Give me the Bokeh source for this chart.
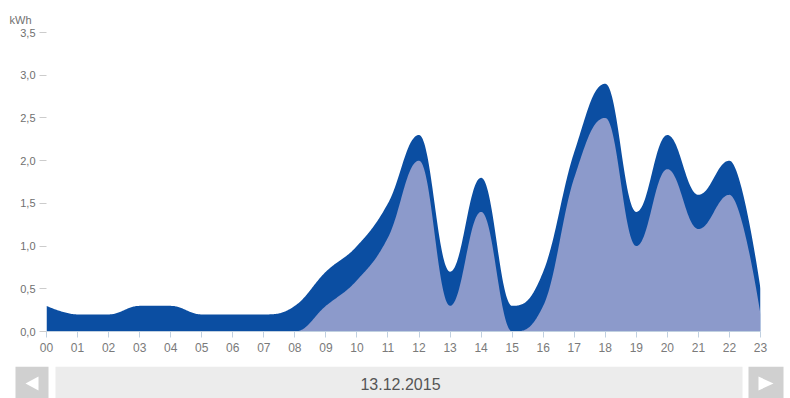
from bokeh.plotting import figure
from bokeh.layouts import column
from bokeh.models import FixedTicker, CustomJSTickFormatter, Title
from bokeh.embed import file_html
from bokeh.resources import INLINE

# Hourly energy readings (kWh) for 13.12.2015
hours = list(range(24))
hour_labels = ["%02d" % h for h in hours]
total_kwh = [0.3, 0.2, 0.2, 0.3, 0.3, 0.2, 0.2, 0.2, 0.3, 0.7, 1.0, 1.5,
             2.3, 0.7, 1.8, 0.3, 0.7, 2.1, 2.9, 1.4, 2.3, 1.6, 2.0, 0.5]
part_kwh = [0.0, 0.0, 0.0, 0.0, 0.0, 0.0, 0.0, 0.0, 0.0, 0.3, 0.6, 1.1,
            2.0, 0.3, 1.4, 0.0, 0.3, 1.8, 2.5, 1.0, 1.9, 1.2, 1.6, 0.2]
y_ticks = [0.0, 0.5, 1.0, 1.5, 2.0, 2.5, 3.0, 3.5]
date_label = "13.12.2015"

DARK = "#0b4ea2"
LIGHT = "#8c9acb"
FONT = "Liberation Sans"


def spline_path(xs, ys, smoothing=1.5, steps=40):
    """Smooth curve through the points (cubic Bezier segments, spline style)."""
    n = len(xs)
    left = [(xs[i], ys[i]) for i in range(n)]
    right = [(xs[i], ys[i]) for i in range(n)]
    denom = smoothing + 1
    for i in range(1, n - 1):
        px, py = xs[i], ys[i]
        lx, ly = xs[i - 1], ys[i - 1]
        nx, ny = xs[i + 1], ys[i + 1]
        lcx = (smoothing * px + lx) / denom
        lcy = (smoothing * py + ly) / denom
        rcx = (smoothing * px + nx) / denom
        rcy = (smoothing * py + ny) / denom
        if rcx != lcx:
            corr = ((rcy - lcy) * (rcx - px)) / (rcx - lcx) + py - rcy
            lcy += corr
            rcy += corr
        if lcy > ly and lcy > py:
            lcy = max(ly, py)
            rcy = 2 * py - lcy
        elif lcy < ly and lcy < py:
            lcy = min(ly, py)
            rcy = 2 * py - lcy
        if rcy > ny and rcy > py:
            rcy = max(ny, py)
            lcy = 2 * py - rcy
        elif rcy < ny and rcy < py:
            rcy = min(ny, py)
            lcy = 2 * py - rcy
        left[i] = (lcx, lcy)
        right[i] = (rcx, rcy)
    out_x, out_y = [xs[0]], [ys[0]]
    for i in range(n - 1):
        p0 = (xs[i], ys[i])
        p1 = right[i]
        p2 = left[i + 1]
        p3 = (xs[i + 1], ys[i + 1])
        for k in range(1, steps + 1):
            t = k / steps
            a = (1 - t) ** 3
            b = 3 * (1 - t) ** 2 * t
            c = 3 * (1 - t) * t ** 2
            d = t ** 3
            out_x.append(a * p0[0] + b * p1[0] + c * p2[0] + d * p3[0])
            out_y.append(a * p0[1] + b * p1[1] + c * p2[1] + d * p3[1])
    return out_x, out_y


p = figure(width=790, height=366, x_range=(0, 23), y_range=(0, 3.5),
           output_backend="svg", toolbar_location=None,
           min_border_left=46, min_border_right=30,
           min_border_top=32, min_border_bottom=35)
p.frame_align = False
p.outline_line_color = None
p.xgrid.grid_line_color = None
p.ygrid.grid_line_color = None
p.background_fill_color = "white"
p.border_fill_color = "white"

tx, ty = spline_path(hours, total_kwh)
px_, py_ = spline_path(hours, part_kwh)
p.varea(x=tx, y1=[0] * len(tx), y2=ty, fill_color=DARK)
p.varea(x=px_, y1=[0] * len(px_), y2=py_, fill_color=LIGHT)

# x axis: hours
xa = p.xaxis[0]
xa.ticker = FixedTicker(ticks=hours)
xa.major_label_overrides = {h: lab for h, lab in zip(hours, hour_labels)}
xa.axis_line_color = "#c0d0e0"
xa.major_tick_line_color = "#c0d0e0"
xa.major_tick_in = 0
xa.major_tick_out = 6
xa.minor_tick_line_color = None
xa.major_label_standoff = 5
xa.major_label_text_font = FONT
xa.major_label_text_font_size = "12px"
xa.major_label_text_color = "#7a7a7a"

# y axis: kWh with comma decimals
ya = p.yaxis[0]
ya.ticker = FixedTicker(ticks=y_ticks)
ya.formatter = CustomJSTickFormatter(code="return tick.toFixed(1).replace('.', ',');")
ya.axis_line_color = None
ya.major_tick_line_color = "#cccccc"
ya.major_tick_in = 0
ya.major_tick_out = 7
ya.minor_tick_line_color = None
ya.major_label_standoff = 4
ya.major_label_text_font = FONT
ya.major_label_text_font_size = "11px"
ya.major_label_text_color = "#707070"

# unit caption above the y axis
p.add_layout(Title(text="kWh", align="left", offset=-37, standoff=14,
                   text_font=FONT, text_font_size="11px",
                   text_font_style="normal", text_color="#707070"), "above")

# Day navigator strip
nav = figure(width=790, height=32, x_range=(0, 790), y_range=(0, 32),
             output_backend="svg", toolbar_location=None,
             min_border=0, min_border_left=0, min_border_right=0,
             min_border_top=0, min_border_bottom=0)
nav.frame_align = False
nav.axis.visible = False
nav.xgrid.grid_line_color = None
nav.ygrid.grid_line_color = None
nav.outline_line_color = None
nav.background_fill_color = "white"
nav.border_fill_color = "white"

nav.quad(left=[15, 748], right=[48, 783], bottom=[0, 0], top=[32, 32],
         fill_color="#d0d0d0", line_color=None)
nav.quad(left=[55], right=[742], bottom=[0], top=[32],
         fill_color="#ececec", line_color=None)
nav.patches(xs=[[25, 38, 38], [773, 758, 758]],
            ys=[[15, 22, 8], [15, 22, 8]],
            fill_color="white", line_color=None)
nav.text(x=[400], y=[15], text=[date_label], text_align="center",
         text_baseline="middle", text_font_size="16px",
         text_color="#555555", text_font={"value": FONT})

layout = column(p, nav, spacing=0)
open("out.html", "w").write(file_html(layout, INLINE))
